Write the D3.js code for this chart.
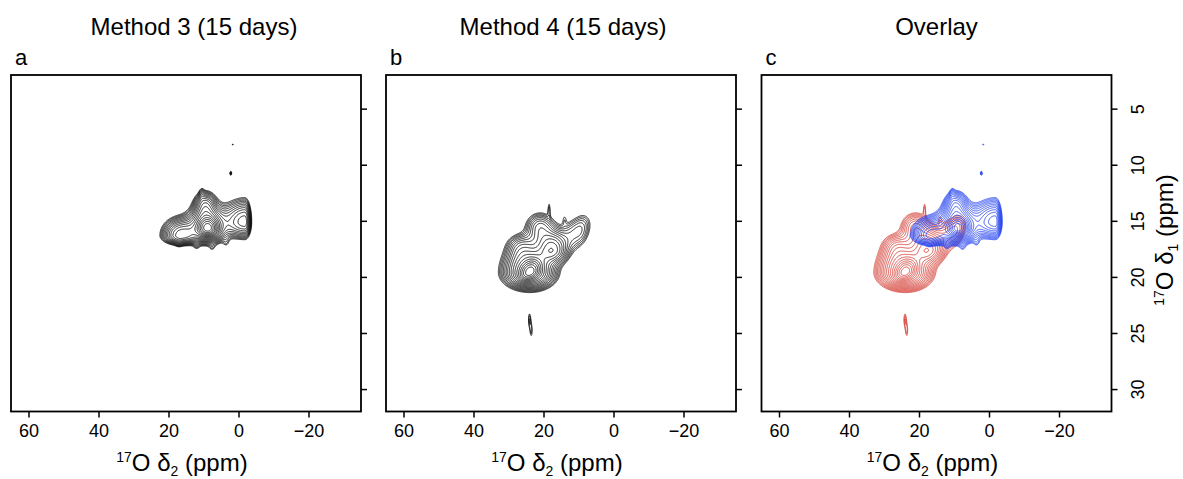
<!DOCTYPE html>
<html>
<head>
<meta charset="utf-8">
<script src="https://cdn.jsdelivr.net/npm/d3@7"></script>
<style>
body{margin:0;background:#fff}
text{font-family:"Liberation Sans",Arial,sans-serif;white-space:pre}
</style>
</head>
<body>
<svg id="fig" width="1183" height="479"></svg>
<script>
// axes (ppm)
var d2Domain=[65,-35], d1Domain=[2,32];
var d2Ticks=[60,40,20,0,-20];
var d1Ticks=[5,10,15,20,25,30];
var panelTitles=["Method 3 (15 days)","Method 4 (15 days)","Overlay"];
var panelLetters=["a","b","c"];

// contour levels (fraction of max)
var levels=[0.04,0.048,0.058,0.069,0.083,0.1,0.12,0.143,0.172,0.206,0.248,0.297,0.357,0.428,0.514,0.616,0.74,0.888];

// peak components
// cols: d2 centre, d1 centre, height, d2 width left, d2 width right, d1 width up, d1 width down, tilt
var method3Peaks=[
	[8.8,15.65,0.6,1.5,1.5,0.5,0.4,0],
	[8.8,15.6,0.42,3.2,3.0,1.1,0.75,0],
	[16.5,16.3,0.33,2.9,3.0,0.85,0.45,0],
	[-1.8,15.1,0.28,3.6,1.0,1.1,0.8,0],
	[9.5,13.6,0.2,1.8,1.8,0.7,1.0,0],
	[17,17.0,0.03,0.7,0.7,0.4,0.25,0],
	[12,17.3,0.03,0.7,0.7,0.4,0.25,0],
	[7.5,17.4,0.03,0.7,0.7,0.4,0.25,0],
	[3.5,17.0,0.03,0.7,0.7,0.4,0.25,0],
	[10.5,12.6,0.04,0.5,0.5,0.4,0.4,0],
	[1.66,8.2,0.05,0.2,0.2,0.08,0.08,0],
	[2.2,10.76,0.065,0.25,0.25,0.18,0.18,0]
];
var method4Peaks=[
	[23.9,19.55,0.55,1.6,1.6,0.55,0.4,0.1],
	[23.9,19.6,0.5,4.0,3.8,1.3,0.8,0],
	[17.5,17.6,0.3,2.5,2.5,1.0,0.7,0],
	[10,15.9,0.11,4.0,2.3,0.9,1.0,0.15],
	[21,15.6,0.15,2.5,2.5,0.8,1.0,0],
	[26.5,17.3,0.1,2.5,2.5,0.7,0.8,0],
	[18.4,13.9,0.045,0.3,0.3,0.6,0.5,0],
	[14,14.8,0.03,0.5,0.5,0.4,0.4,0],
	[24.0,23.8,0.055,0.35,0.35,0.6,0.6,0],
	[23.5,24.8,0.05,0.35,0.35,0.6,0.6,0]
];

var W=350, H=336.5, panelX=[11,386,761.5], panelTop=75;
var titleShift=[8,2,0];
var svg=d3.select("#fig");

var x=d3.scaleLinear().domain(d2Domain).range([0,W]);
var y=d3.scaleLinear().domain(d1Domain).range([0,H]);

// grid for the contour generator
var nx=700, ny=673;
var gx=d3.scaleLinear().domain([0,nx]).range(d2Domain);
var gy=d3.scaleLinear().domain([0,ny]).range(d1Domain);

function field(peaks,d2,d1){
	var s=0;
	peaks.forEach(function(p){
		var dx=d2-p[0];
		var dy=d1-p[1]-p[7]*dx;
		var u=dx/(dx>0?p[3]:p[4]);
		var v=dy/(dy>0?p[6]:p[5]);
		s+=p[2]*Math.exp(-0.5*(u*u+v*v));
	});
	return s;
}
function contoursFor(peaks){
	var vals=new Float64Array(nx*ny);
	for(var j=0;j<ny;j++){
		var d1=gy(j+0.5);
		for(var i=0;i<nx;i++){
			vals[j*nx+i]=field(peaks,gx(i+0.5),d1);
		}
	}
	return d3.contours().size([nx,ny]).thresholds(levels)(vals);
}
var m3=contoursFor(method3Peaks), m4=contoursFor(method4Peaks);

var proj=d3.geoTransform({point:function(px,py){
	this.stream.point(x(gx(px)),y(gy(py)));
}});
var path=d3.geoPath(proj);

var panelSets=[[m3],[m4],[m4,m3]];
var panelColors=[["#000"],["#000"],["#d43a30","#1f3ff0"]];

function isoLabel(t,sub){
	t.append("tspan").attr("font-size",14).attr("dy",-9).text("17");
	t.append("tspan").attr("dy",9).text("O ");
	t.append("tspan").text("δ");
	t.append("tspan").attr("font-size",14).attr("dy",5).text(sub);
	t.append("tspan").attr("dy",-5).text(" (ppm)");
}

panelX.forEach(function(px,k){
	var g=svg.append("g").attr("transform","translate("+px+","+panelTop+")");
	g.append("clipPath").attr("id","clip"+k)
		.append("rect").attr("width",W).attr("height",H);
	var cg=g.append("g").attr("clip-path","url(#clip"+k+")");
	panelSets[k].forEach(function(cs,si){
		cg.append("g").selectAll("path").data(cs).join("path")
			.attr("d",path)
			.attr("fill","none")
			.attr("stroke",panelColors[k][si])
			.attr("stroke-width",0.85);
	});
	g.append("rect").attr("width",W).attr("height",H)
		.attr("fill","none").attr("stroke","#000").attr("stroke-width",1.8);

	var xa=g.append("g").attr("transform","translate(0,"+H+")")
		.call(d3.axisBottom(x).tickValues(d2Ticks).tickSize(6).tickPadding(7));
	xa.select(".domain").remove();
	xa.attr("font-size",18).attr("font-family",null);
	xa.selectAll("line").attr("stroke-width",1.5);

	var ya=g.append("g").attr("transform","translate("+W+",0)")
		.call(d3.axisRight(y).tickValues(d1Ticks).tickSize(6));
	ya.select(".domain").remove();
	ya.attr("font-size",18).attr("font-family",null);
	ya.selectAll("line").attr("stroke-width",1.5);
	if(k<2){ ya.selectAll("text").remove(); }
	else{
		ya.selectAll("text").attr("x",0).attr("y",32).attr("dy",null)
			.attr("transform","rotate(-90)").attr("text-anchor","middle");
		var yt=g.append("text").attr("font-size",24).attr("text-anchor","middle")
			.attr("transform","translate(411,165) rotate(-90)");
		isoLabel(yt,"1");
	}

	g.append("text").attr("x",W/2+titleShift[k]).attr("y",-40)
		.attr("text-anchor","middle").attr("font-size",24).text(panelTitles[k]);
	g.append("text").attr("x",4).attr("y",-10).attr("font-size",22).text(panelLetters[k]);
	var xt=g.append("text").attr("x",W/2-4).attr("y",396)
		.attr("text-anchor","middle").attr("font-size",24);
	isoLabel(xt,"2");
});
</script>
</body>
</html>
